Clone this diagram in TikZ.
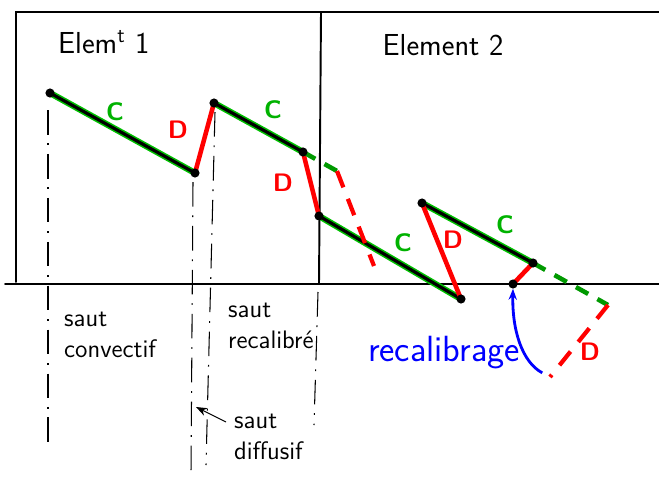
\documentclass[tikz,border=0pt]{standalone}
\usepackage{tikz}
\usetikzlibrary{arrows.meta,positioning}
\begin{document}
\begin{tikzpicture}[x=0.02cm, y=-0.02cm,
  frame/.style={line width=1.1pt, line cap=round},
  guide/.style={line width=0.6pt, dash pattern=on 14pt off 5pt on 1pt off 5pt},
  pt/.style={circle, inner sep=0pt, minimum size=5pt},
  cseg/.style={preaction={draw=green!75!black, line width=3.6pt}, draw=black, line width=1.8pt, line cap=round},
  dseg/.style={draw=red, line width=2.6pt, line cap=round},
  cdash/.style={draw=green!60!black, line width=2.6pt, dash pattern=on 8pt off 6pt},
  ddash/.style={draw=red, line width=2.4pt, dash pattern=on 10pt off 7pt},
  lab/.style={font=\sffamily\Large, align=left, anchor=west},
  clab/.style={font=\sffamily\Large\bfseries, text=green!70!black},
  dlab/.style={font=\sffamily\Large\bfseries, text=red},
  arr/.style={-{Stealth[length=2.2mm]}, semithick}]
\useasboundingbox (0,0) rectangle (659,484);
\draw[frame] (659,12) -- (16,12) -- (16,282);
\draw[frame] (321,12) -- (319,284);
\draw[frame] (5,284) -- (659,284);
\node[font=\sffamily\LARGE, anchor=west] (e1) at (52,42) {Elem\textsuperscript{t} 1};
\node[font=\sffamily\LARGE] (e2) at (443,45) {Element 2};
\node[pt] (p1) at (50,93) {};
\node[pt] (p2) at (195,173) {};
\node[pt] (p3) at (214,103) {};
\node[pt] (p4) at (303,152) {};
\node[pt] (p5) at (319,216) {};
\node[pt] (p6) at (461,299) {};
\node[pt] (p7) at (422,203) {};
\node[pt] (p8) at (533,263) {};
\node[pt] (p9) at (513,284) {};
\coordinate (q1) at (337,171);
\coordinate (q2) at (374,266);
\coordinate (q3) at (608,305);
\coordinate (q4) at (550,377);
\draw[guide] (48,110) -- (48,450);
\draw[guide] (193,182) -- (191,473);
\draw[guide] (215,112) -- (206,465);
\draw[guide] (318,292) -- (314,425);
\foreach \a/\b in {p1/p2,p3/p4,p5/p6,p7/p8} \draw[cseg] (\a.center) -- (\b.center);
\foreach \a/\b in {p2/p3,p4/p5,p6/p7,p8/p9} \draw[dseg] (\a.center) -- (\b.center);
\draw[cdash] (p4.center) -- (q1);
\draw[ddash] (q1) -- (q2);
\draw[cdash] (p8.center) -- (q3);
\draw[ddash] (q3) -- (q4);
\foreach \p in {p1,p2,p3,p4,p5,p6,p7,p8,p9} \fill (\p.center) circle (2.6pt);
\node[clab] at (115,112) {C};
\node[clab] at (273,110) {C};
\node[clab] at (403,243) {C};
\node[clab] at (505,225) {C};
\node[dlab] at (178,130) {D};
\node[dlab] at (283,183) {D};
\node[dlab] at (453,240) {D};
\node[dlab] at (590,352) {D};
\node[lab] (sc) at (58,335) {saut\\convectif};
\node[lab] (sr) at (222,326) {saut\\recalibré};
\node[lab] (sd) at (228,437) {saut\\diffusif};
\coordinate (dtail) at (226,422);
\coordinate (dtip) at (196,407);
\draw[arr] (dtail) -- (dtip);
\node[font=\sffamily\huge, text=blue] (rc) at (444,353) {recalibrage};
\draw[arr, blue, line width=1.6pt, shorten <=5pt] (q4) .. controls (522,362) and (512,330) .. (p9.south);
\end{tikzpicture}
\end{document}
